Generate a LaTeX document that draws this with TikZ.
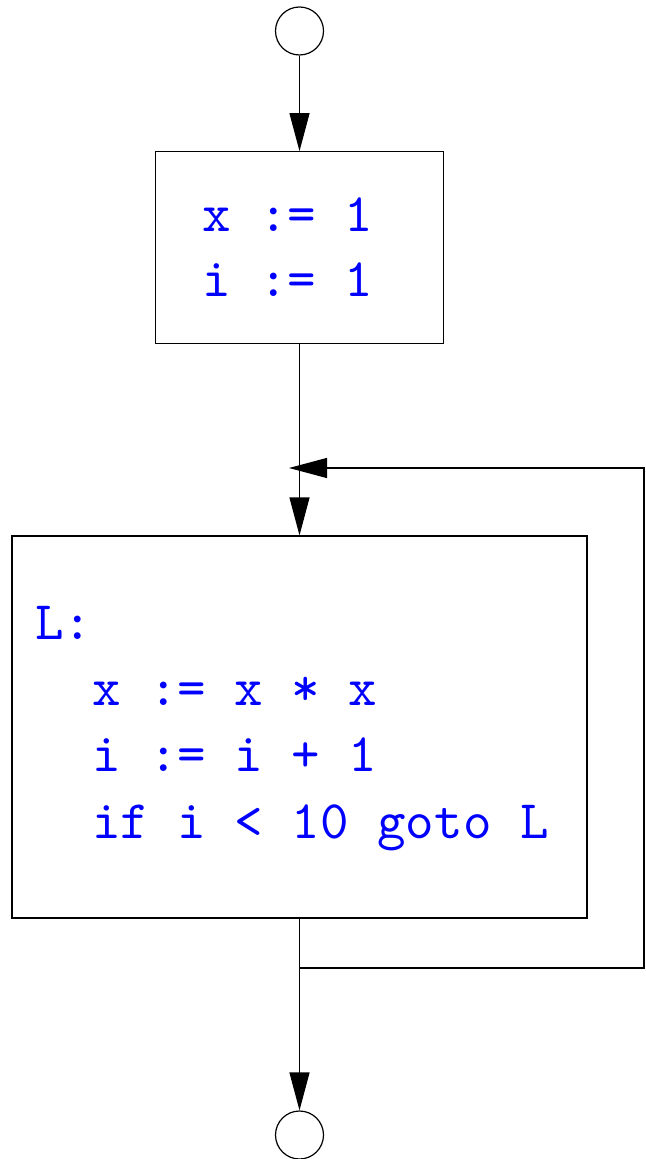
\documentclass[tikz,border=0pt]{standalone}
\usepackage{fontspec}
\setmonofont{lmmono10-regular.otf}
\usetikzlibrary{arrows.meta}
\tikzset{
  lw/.style={line width=0.6pt},
  arr/.style={lw,-{Triangle[length=19pt,width=10pt]}},
  term/.style={lw,draw,circle,inner sep=0pt,minimum size=24pt},
  blk/.style={lw,draw,rectangle,inner sep=0pt},
  code/.style={anchor=base west,inner sep=0pt,text=blue,font=\fontsize{27.15}{33}\selectfont\ttfamily},
}
\begin{document}
\begin{tikzpicture}[x=0.5pt,y=-0.5pt]
\useasboundingbox (0,0) rectangle (645,1159);
\node[term] (start) at (299.5,31) {};
\node[blk,minimum width=144pt,minimum height=95.75pt] (b1) at (299.5,247.5) {};
\node[blk,minimum width=287.5pt,minimum height=191pt] (b2) at (299.5,727) {};
\node[term] (stop) at (299.5,1135) {};
\node[code] (t1) at (202,232) {x := 1};
\node[code] (t2) at (202,297) {i := 1};
\node[code] (t3) at (35,639) {L:};
\node[code] (t4) at (92,705.3) {x := x * x};
\node[code] (t5) at (92,771.6) {i := i + 1};
\node[code] (t6) at (92,838) {if i < 10 goto L};
\coordinate (split) at (299.5,968);
\coordinate (r1) at (644,968);
\coordinate (r2) at (644,468);
\coordinate (merge) at (289,468);
\draw[arr] (start) -- (b1);
\draw[arr] (b1) -- (b2);
\draw[arr] (b2) -- (stop);
\draw[arr] (split) -- (r1) -- (r2) -- (merge);
\end{tikzpicture}
\end{document}
